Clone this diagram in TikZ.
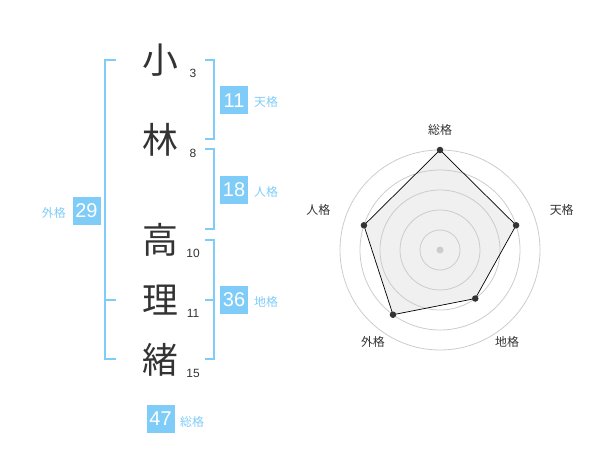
\documentclass[tikz,border=0pt]{standalone}
\usepackage{fontspec}
\newfontfamily\cjk{Noto Sans CJK JP}
\newfontfamily\numf{Liberation Sans}
\definecolor{brk}{HTML}{80CCF8}
\definecolor{txt}{HTML}{333333}
\definecolor{ring}{HTML}{CCCCCC}
\definecolor{polyfill}{HTML}{F0F0F0}
\tikzset{
  kanji/.style={font=\cjk\fontsize{36}{36}\selectfont, text=txt, inner sep=0pt},
  strokes/.style={font=\numf\fontsize{12}{12}\selectfont, text=txt, inner sep=0pt},
  brkline/.style={draw=brk, line width=2bp},
  valbox/.style={fill=brk, text=white, minimum width=28bp, minimum height=28bp, inner sep=0pt, font=\numf\fontsize{20}{20}\selectfont},
  kaku/.style={font=\cjk\fontsize{12}{12}\selectfont, text=brk, inner sep=0pt},
  rlabel/.style={font=\cjk\fontsize{12}{12}\selectfont, text=txt, inner sep=0pt},
  ringline/.style={draw=ring, line width=0.8bp},
  rdot/.style={circle, fill=txt, inner sep=0pt, minimum size=6.5bp},
}
\begin{document}
\begin{tikzpicture}[x=1bp,y=-1bp]
\useasboundingbox (0,0) rectangle (600,470);
% name characters
\node[kanji] (k1) at (160,60) {小};
\node[kanji] (k2) at (160,140) {林};
\node[kanji] (k3) at (160,240) {高};
\node[kanji] (k4) at (160,300) {理};
\node[kanji] (k5) at (160,360) {緒};
\node[strokes] (s1) at (193,73) {3};
\node[strokes] (s2) at (193,153) {8};
\node[strokes] (s3) at (193,253) {10};
\node[strokes] (s4) at (193,313) {11};
\node[strokes] (s5) at (193,373) {15};
% brackets
\draw[brkline] (116,60) -- (105,60) -- (105,359) -- (116,359);
\draw[brkline] (105,300) -- (116,300);
\draw[brkline] (205,60) -- (214,60) -- (214,139) -- (205,139);
\draw[brkline] (205,149) -- (214,149) -- (214,229) -- (205,229);
\draw[brkline] (205,240) -- (214,240) -- (214,359) -- (205,359);
\draw[brkline] (205,300) -- (214,300);
% value boxes
\node[valbox] (b11) at (234,100.5) {11};
\node[kaku, anchor=west] (l11) at (254,102) {天格};
\node[valbox] (b18) at (234,190) {18};
\node[kaku, anchor=west] (l18) at (254,192) {人格};
\node[valbox] (b29) at (86.5,211) {29};
\node[kaku, anchor=east] (l29) at (66,213) {外格};
\node[valbox] (b36) at (234,300) {36};
\node[kaku, anchor=west] (l36) at (254,302) {地格};
\node[valbox] (b47) at (160.5,419) {47};
\node[kaku, anchor=west] (l47) at (180,422) {総格};
% radar chart
\begin{scope}[shift={(440,250)}, yscale=-1]
  \coordinate (p1) at (90:100);
  \coordinate (p2) at (18:80);
  \coordinate (p3) at (-54:60);
  \coordinate (p4) at (-126:80);
  \coordinate (p5) at (162:80);
  \fill[polyfill] (p1) -- (p2) -- (p3) -- (p4) -- (p5) -- cycle;
  \foreach \r in {20,40,60,80,100} \draw[ringline] (0,0) circle[radius=\r];
  \fill[ring] (0,0) circle[radius=3.5];
  \draw[black, line width=0.7bp] (p1) -- (p2) -- (p3) -- (p4) -- (p5) -- cycle;
  \foreach \p in {p1,p2,p3,p4,p5} \node[rdot] at (\p) {};
  \node[rlabel] (r1) at (90:120) {総格};
  \node[rlabel] (r2) at (18:128) {天格};
  \node[rlabel] (r3) at (-54:114) {地格};
  \node[rlabel] (r4) at (-126:114) {外格};
  \node[rlabel] (r5) at (162:128) {人格};
\end{scope}
\end{tikzpicture}
\end{document}
